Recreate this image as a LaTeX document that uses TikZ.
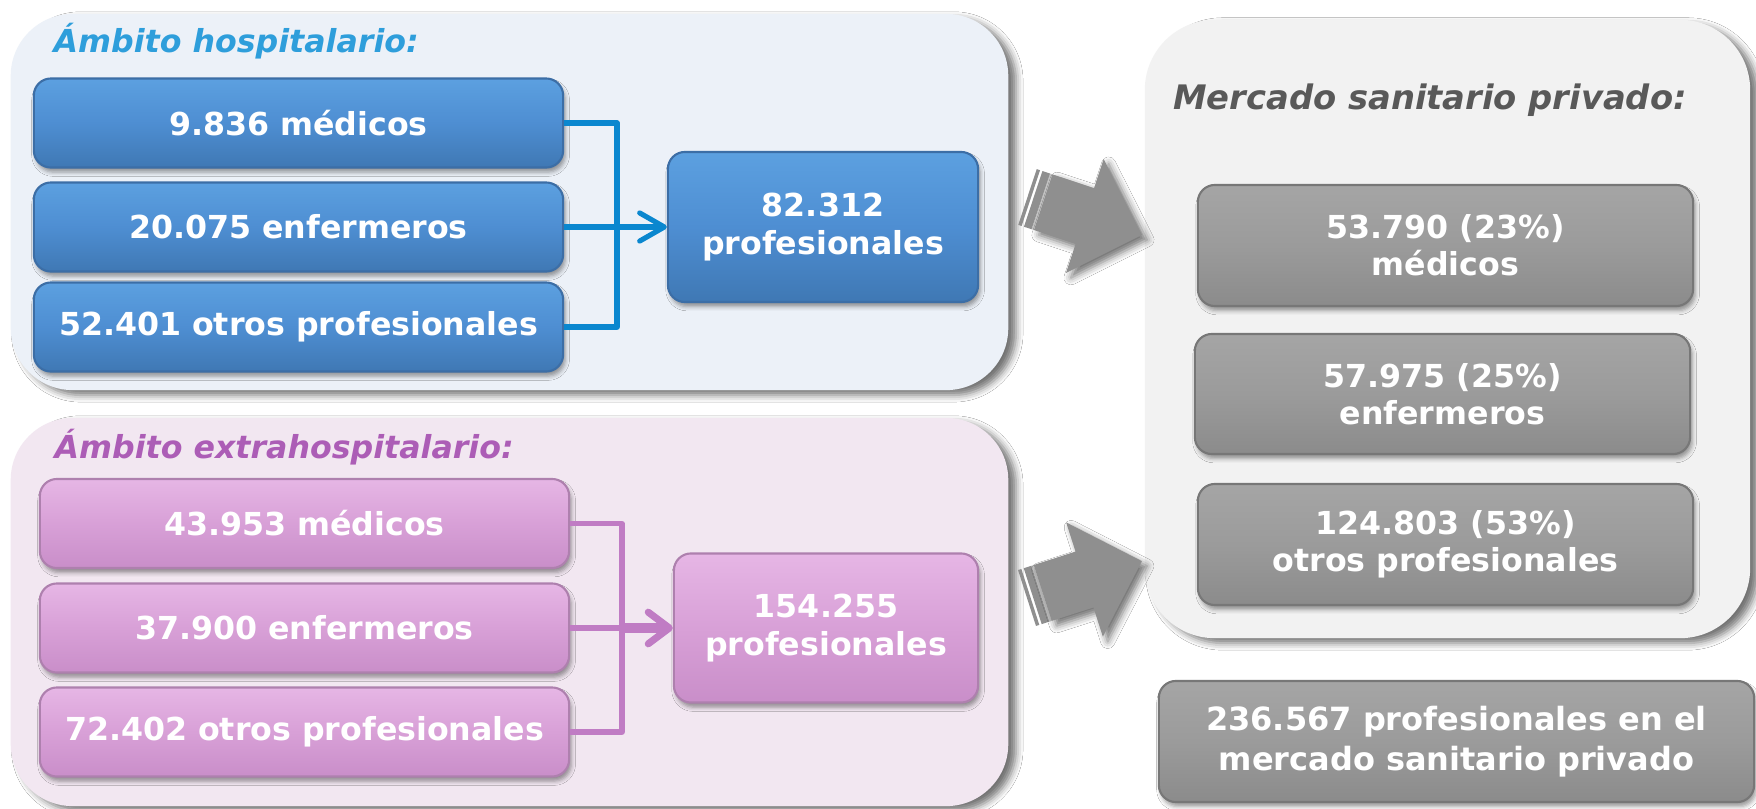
\documentclass[tikz,border=0pt]{standalone}
\usepackage{fontspec}
\setmainfont{DejaVu Sans}[ItalicFont={DejaVu Sans Oblique},BoldFont={DejaVu Sans Bold},BoldItalicFont={DejaVu Sans Bold Oblique}]
\usetikzlibrary{arrows.meta,shadows.blur,calc}
\definecolor{panelA}{HTML}{ECF1F8}
\definecolor{panelB}{HTML}{F2E7F1}
\definecolor{panelC}{HTML}{F2F2F2}
\definecolor{blueTop}{HTML}{5CA0E0}
\definecolor{blueMid}{HTML}{4E8ED2}
\definecolor{blueBot}{HTML}{3F78B4}
\definecolor{blueDraw}{HTML}{3C6EA6}
\definecolor{purTop}{HTML}{E6B6E5}
\definecolor{purMid}{HTML}{D8A0D7}
\definecolor{purBot}{HTML}{C98EC9}
\definecolor{purDraw}{HTML}{AE80AE}
\definecolor{grTop}{HTML}{A5A5A5}
\definecolor{grMid}{HTML}{9B9B9B}
\definecolor{grBot}{HTML}{8B8B8B}
\definecolor{grDraw}{HTML}{777777}
\definecolor{bLine}{HTML}{0A87CF}
\definecolor{pLine}{HTML}{C07CC4}
\definecolor{arrowGray}{HTML}{8F8F8F}
\definecolor{arrowLight}{HTML}{C4C4C4}
\definecolor{titleBlue}{HTML}{2E9EDB}
\definecolor{titlePur}{HTML}{AC5DB6}
\definecolor{titleGray}{HTML}{595959}
\begin{document}
\begin{tikzpicture}[x=0.01cm,y=-0.01cm,
  panel/.style={rounded corners=0.62cm, inner sep=0pt,
    blur shadow={shadow xshift=2.2pt, shadow yshift=-1.4pt, shadow blur radius=2pt, shadow opacity=55}},
  box/.style={rounded corners=0.17cm, line width=0.6pt, text=white, align=center, inner sep=0pt,
    font={\fontsize{9}{10.6}\selectfont\bfseries},
    blur shadow={shadow xshift=0.6pt, shadow yshift=-1.3pt, shadow blur radius=1.2pt, shadow opacity=40}},
  bluebox/.style={box, draw=blueDraw, top color=blueTop, bottom color=blueBot, middle color=blueMid},
  purbox/.style={box, draw=purDraw, top color=purTop, bottom color=purBot, middle color=purMid},
  graybox/.style={box, draw=grDraw, top color=grTop, bottom color=grBot, middle color=grMid},
  paneltitle/.style={inner sep=0pt, font={\fontsize{9}{10.6}\selectfont\bfseries\itshape}},
  bline/.style={draw=bLine, line width=1.45pt, line join=round},
  pline/.style={draw=pLine, line width=1.45pt, line join=round},
  bigarrow/.pic={
    \fill[arrowLight] (14,-29.35) rectangle (16.5,29.35);
    \fill[arrowGray] (0,-29.35) rectangle (3.5,29.35);
    \fill[arrowGray] (6,-29.35) rectangle (14,29.35);
    \fill[arrowGray, blur shadow={shadow xshift=1.4pt, shadow yshift=-1.4pt, shadow blur radius=2pt, shadow opacity=55}]
      (16.5,-29.35) -- (60.4,-29.35) -- (60.4,-60) -- (120.7,0) -- (60.4,60) -- (60.4,29.35) -- (16.5,29.35) -- cycle;
  }]
\path[use as bounding box] (0,0) rectangle (1756,809);
\clip (0,0) rectangle (1756,809);
\fill[white] (0,0) rectangle (1756,809);

% panels
\node[panel, fill=panelA, minimum width=9.97cm, minimum height=3.76cm] (p1) at (509.5,202) {};
\node[panel, fill=panelB, minimum width=9.97cm, minimum height=3.88cm] (p2) at (509.5,612) {};
\node[panel, fill=panelC, rounded corners=0.7cm, minimum width=6.05cm, minimum height=6.18cm] (p3) at (1447.5,329) {};

% titles
\node[paneltitle, text=titleBlue, anchor=base west] (t1) at (53,53) {Ámbito hospitalario:};
\node[paneltitle, text=titlePur, anchor=base west] (t2) at (54,458) {Ámbito extrahospitalario:};
\node[paneltitle, text=titleGray, anchor=base, font={\fontsize{9.6}{11.3}\selectfont\bfseries\itshape}] (t3) at (1430,110) {Mercado sanitario privado:};

% hospital boxes
\node[bluebox, minimum width=5.29cm, minimum height=0.89cm] (a1) at (298.5,123) {9.836 médicos};
\node[bluebox, minimum width=5.29cm, minimum height=0.89cm] (a2) at (298.5,227) {20.075 enfermeros};
\node[bluebox, minimum width=5.29cm, minimum height=0.89cm] (a3) at (298.5,327) {52.401 otros profesionales};
\node[bluebox, minimum width=3.10cm, minimum height=1.50cm] (a4) at (823,227) {82.312\\profesionales};

% extra-hospital boxes
\node[purbox, minimum width=5.29cm, minimum height=0.89cm] (b1) at (304.5,523.5) {43.953 médicos};
\node[purbox, minimum width=5.29cm, minimum height=0.89cm] (b2) at (304.5,628) {37.900 enfermeros};
\node[purbox, minimum width=5.29cm, minimum height=0.89cm] (b3) at (304.5,732) {72.402 otros profesionales};
\node[purbox, minimum width=3.04cm, minimum height=1.49cm] (b4) at (826,628) {154.255\\profesionales};

% private market boxes
\node[graybox, minimum width=4.95cm, minimum height=1.21cm] (c1) at (1445.5,245.5) {53.790 (23\%)\\médicos};
\node[graybox, minimum width=4.95cm, minimum height=1.20cm] (c2) at (1442.5,394) {57.975 (25\%)\\enfermeros};
\node[graybox, minimum width=4.95cm, minimum height=1.21cm] (c3) at (1445.5,544.5) {124.803 (53\%)\\otros profesionales};
\node[graybox, minimum width=5.95cm, minimum height=1.21cm, font={\fontsize{9.1}{11.2}\selectfont\bfseries}] (d) at (1456.5,741.5) {236.567 profesionales en el\\mercado sanitario privado};

% connectors hospital
\coordinate (bj) at (617,227);
\draw[bline] (a1.east) -| (bj) |- (a3.east);
\draw[bline, -{Straight Barb[length=7pt,width=8pt,round]}] (a2.east) -- (a4.west);

% connectors extra-hospital
\coordinate (pj) at (622,628);
\draw[pline] (b1.east) -| (pj) |- (b3.east);
\draw[pline] (b2.east) -- (pj);
\draw[pline, line width=2.6pt, -{Straight Barb[length=6pt,width=9pt,line width=2pt,round]}] (pj) -- (b4.west);

% big arrows
\pic[rotate=-18.3] at (1027.5,197) {bigarrow};
\pic[rotate=17.8] at (1027,598) {bigarrow};
\end{tikzpicture}
\end{document}
